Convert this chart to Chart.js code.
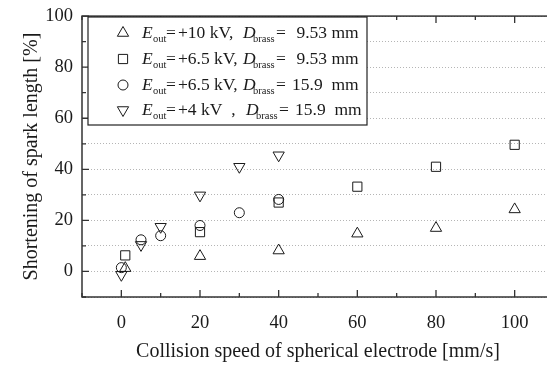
<!DOCTYPE html>
<html>
<head>
<meta charset="utf-8">
<script src="https://cdn.jsdelivr.net/npm/chart.js@4/dist/chart.umd.min.js"></script>
<style>
  body { margin: 0; overflow: hidden; background: #fff; }
  canvas { display: block; margin-top: -4px; }
</style>
</head>
<body>
<canvas id="ctx" width="569" height="369"></canvas>
<script>
// collision speed [mm/s] and shortening [%] for each condition
var speed10 = [1, 20, 40, 60, 80, 100];
var short10 = [1.3, 6, 8.2, 14.8, 17, 24.3];

var speed65a = [1, 20, 40, 60, 80, 100];
var short65a = [6.3, 15.4, 27, 33.2, 41, 49.6];

var speed65b = [0, 5, 10, 20, 30, 40];
var short65b = [1.5, 12.4, 14, 18, 23, 28.2];

var speed4 = [0, 5, 10, 20, 30, 40];
var short4 = [-1.3, 10.4, 17.5, 29.8, 41, 45.5];

var xLabels = [0, 20, 40, 60, 80, 100];
var yLabels = [0, 20, 40, 60, 80, 100];

// legend rows
var legendRows = [
    { shape: "up",     volts: "+10 kV,",   dia: " 9.53 mm" },
    { shape: "rect",   volts: "+6.5 kV,",  dia: " 9.53 mm" },
    { shape: "circle", volts: "+6.5 kV,",  dia: "15.9  mm" },
    { shape: "down",   volts: "+4 kV  ,",  dia: "15.9  mm" }
];

var ink = "#1a1a1a";
var serif = "'Liberation Serif', 'Times New Roman', serif";

function pts(xs, ys) {
    var out = [];
    for (var i = 0; i < xs.length; i++) out.push({ x: xs[i], y: ys[i] });
    return out;
}

function drawSymbol(c, shape, x, y) {
    c.beginPath();
    if (shape == "circle") {
        c.arc(x, y, 5, 0, Math.PI * 2);
    } else if (shape == "rect") {
        var s = 6.5 * Math.SQRT1_2;
        c.rect(x - s, y - s, s * 2, s * 2);
    } else {
        var r = 6.5;
        var a = shape == "up" ? -Math.PI / 2 : Math.PI / 2;
        for (var k = 0; k < 3; k++) {
            var ang = a + k * 2 * Math.PI / 3;
            var px = x + r * Math.cos(ang), py = y + r * Math.sin(ang);
            if (k == 0) c.moveTo(px, py); else c.lineTo(px, py);
        }
        c.closePath();
    }
    c.stroke();
}

var framePlugin = {
    id: "frame",
    afterDraw: function (chart) {
        var c = chart.ctx;
        var a = chart.chartArea;
        var xs = chart.scales.x, ys = chart.scales.y;
        c.save();
        c.strokeStyle = "#333";
        c.lineWidth = 1.5;
        c.strokeRect(a.left, a.top, a.right - a.left, a.bottom - a.top);

        // inward ticks
        c.lineWidth = 1.3;
        c.beginPath();
        for (var v = -10; v <= 100; v += 10) {
            var len = v % 20 == 0 ? 7 : 4;
            var py = ys.getPixelForValue(v);
            c.moveTo(a.left, py); c.lineTo(a.left + len, py);
            c.moveTo(a.right, py); c.lineTo(a.right - len, py);
        }
        for (var u = -10; u <= 110; u += 10) {
            var len2 = u % 20 == 0 ? 7 : 4;
            var px = xs.getPixelForValue(u);
            c.moveTo(px, a.bottom); c.lineTo(px, a.bottom - len2);
            c.moveTo(px, a.top); c.lineTo(px, a.top + len2);
        }
        c.stroke();

        // legend box (canvas is shifted up 4px)
        var oy = 4;
        var bx = 88, by = 17 + oy, bw = 279, bh = 108;
        c.fillStyle = "#fff";
        c.fillRect(bx, by, bw, bh);
        c.strokeStyle = "#222";
        c.lineWidth = 1.2;
        c.strokeRect(bx, by, bw, bh);

        var rowY = [33, 59, 85, 110];
        c.fillStyle = ink;
        c.textBaseline = "middle";
        c.textAlign = "left";
        for (var i = 0; i < legendRows.length; i++) {
            var row = legendRows[i];
            var y = rowY[i] + oy;
            c.strokeStyle = ink;
            c.lineWidth = 1;
            drawSymbol(c, row.shape, 123, y);

            c.font = "italic 17.5px " + serif;
            c.fillText("E", 142, y);
            c.font = "10.5px " + serif;
            c.fillText("out", 153, y + 6);
            c.font = "17.5px " + serif;
            c.fillText("=", 166, y);
            c.fillText(row.volts, 178, y);
            var dx = i == 3 ? 246 : 243;
            c.font = "italic 17.5px " + serif;
            c.fillText("D", dx, y);
            c.font = "10.5px " + serif;
            c.fillText("brass", dx + 10, y + 6);
            c.font = "17.5px " + serif;
            c.fillText("=", dx + 33, y);
            c.fillText(row.dia, dx + 49, y);
        }
        c.restore();
    }
};

var markStyle = {
    borderColor: ink,
    backgroundColor: "rgba(0,0,0,0)",
    borderWidth: 1,
    showLine: false
};

var chart = new Chart(document.getElementById("ctx"), {
    type: "scatter",
    data: {
        datasets: [
            Object.assign({ label: "10kV 9.53", data: pts(speed10, short10), pointStyle: "triangle", pointRadius: 6.5 }, markStyle),
            Object.assign({ label: "6.5kV 9.53", data: pts(speed65a, short65a), pointStyle: "rect", pointRadius: 6.5 }, markStyle),
            Object.assign({ label: "6.5kV 15.9", data: pts(speed65b, short65b), pointStyle: "circle", pointRadius: 5 }, markStyle),
            Object.assign({ label: "4kV 15.9", data: pts(speed4, short4), pointStyle: "triangle", pointRotation: 180, pointRadius: 6.5 }, markStyle)
        ]
    },
    options: {
        responsive: false,
        animation: false,
        events: [],
        layout: { padding: { top: 10, right: 7, left: 0, bottom: 0 }, autoPadding: false },
        plugins: { legend: { display: false }, tooltip: { enabled: false } },
        scales: {
            x: {
                type: "linear",
                min: -10,
                max: 110,
                afterFit: function (s) { s.height = 68; },
                grid: { display: false, drawTicks: false },
                border: { display: false },
                ticks: {
                    stepSize: 10,
                    padding: 15,
                    color: ink,
                    font: { family: serif, size: 18.5 },
                    maxRotation: 0,
                    autoSkip: false,
                    callback: function (v) { return xLabels.indexOf(v) >= 0 ? String(v) : ""; }
                },
                title: {
                    display: true,
                    text: "Collision speed of spherical electrode [mm/s]",
                    color: ink,
                    font: { family: serif, size: 20 },
                    padding: { top: 0, bottom: 1 }
                }
            },
            y: {
                type: "linear",
                min: -10,
                max: 100,
                afterFit: function (s) { s.width = 82; },
                grid: { color: "#b5b5b5", lineWidth: 1, drawTicks: false },
                border: { display: false, dash: [1, 2] },
                ticks: {
                    stepSize: 10,
                    padding: 9,
                    color: ink,
                    font: { family: serif, size: 18.5 },
                    autoSkip: false,
                    callback: function (v) { return yLabels.indexOf(v) >= 0 ? String(v) : ""; }
                },
                title: {
                    display: true,
                    text: "Shortening of spark length [%]",
                    color: ink,
                    font: { family: serif, size: 20 },
                    padding: { top: 20, bottom: 0 }
                }
            }
        }
    },
    plugins: [framePlugin]
});
</script>
</body>
</html>
